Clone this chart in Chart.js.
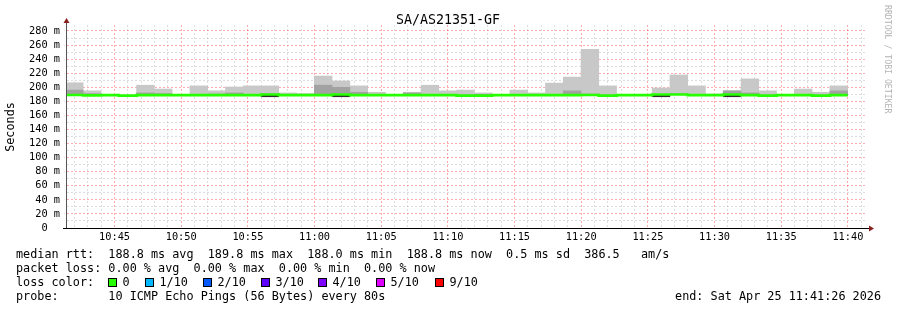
<!DOCTYPE html>
<html>
<head>
<meta charset="utf-8">
<script src="https://cdn.jsdelivr.net/npm/chart.js@4/dist/chart.umd.min.js"></script>
<style>
  html, body { margin: 0; padding: 0; background: #fff; }
  #wrap { width: 897px; height: 310px; }
</style>
</head>
<body>
<div id="wrap"><canvas id="chart" width="897" height="310"></canvas></div>
<script>
const chartTitle = 'SA/AS21351-GF';
const windowStart = '10:41:26';   // left edge of the graph
const firstSample = '10:41:19';   // start of the first (clipped) sample
const stepSec = 80;
const gridSec = 60;               // one minor grid line per minute

// one entry per 80s sample (ms)
const median = [189.0, 188.4, 188.8, 188.0, 188.8, 188.8, 188.8, 188.8, 188.8, 188.8,
                188.8, 189.7, 188.8, 188.8, 188.8, 189.7, 188.8, 188.8, 188.8, 188.8,
                188.8, 188.8, 188.0, 188.0, 188.8, 188.8, 188.8, 188.8, 188.8, 189.0,
                188.0, 188.8, 188.8, 189.7, 189.7, 188.8, 188.8, 189.7, 188.8, 188.0,
                188.8, 188.8, 188.0, 188.8];
const smokeHigh = [206.5, 195.0, 190.0, 188.0, 203.0, 197.5, 190.0, 202.0, 195.0, 200.5,
                   202.0, 202.0, 192.0, 190.5, 216.0, 209.0, 202.0, 193.0, 188.8, 193.0,
                   203.0, 195.0, 196.0, 192.0, 188.8, 196.0, 192.0, 206.0, 214.5, 254.0,
                   202.0, 188.8, 188.8, 199.0, 217.5, 202.0, 190.5, 195.0, 212.0, 195.0,
                   190.0, 197.5, 193.0, 202.0];
const smokeMid = [196.0, 191.0, 190.0, 188.0, 192.0, 191.0, 188.8, 190.0, 190.5, 192.0,
                  190.0, 191.0, 190.0, 190.5, 203.0, 200.0, 193.0, 190.0, 188.8, 192.0,
                  190.0, 190.0, 189.0, 190.0, 188.8, 189.5, 189.5, 190.0, 195.0, 190.5,
                  189.0, 188.8, 188.8, 190.0, 191.0, 190.0, 188.8, 195.0, 192.0, 189.0,
                  190.0, 189.0, 189.0, 195.0];
const smokeLow = [189.0, 188.4, 188.8, 188.0, 188.8, 188.8, 188.8, 188.8, 188.8, 188.8,
                  188.8, 186.5, 188.8, 188.8, 188.8, 186.5, 188.8, 188.8, 188.8, 188.8,
                  188.8, 188.8, 188.0, 188.0, 188.8, 188.8, 188.8, 188.8, 188.8, 189.0,
                  188.0, 188.8, 188.8, 186.5, 189.7, 188.8, 188.8, 186.5, 188.8, 188.0,
                  188.8, 188.8, 188.0, 188.8];

const yTicks = [0, 10, 20, 30, 40, 50, 60, 70, 80, 90, 100, 110, 120, 130, 140,
                150, 160, 170, 180, 190, 200, 210, 220, 230, 240, 250, 260, 270, 280];
const xLabels = ['10:45', '10:50', '10:55', '11:00', '11:05', '11:10', '11:15',
                 '11:20', '11:25', '11:30', '11:35', '11:40'];

const lossColors = ['#26ff00', '#00b8ff', '#0059ff', '#5e00ff', '#7e00ff', '#dd00ff', '#ff0000'];
const lossLabels = ['0', '1/10', '2/10', '3/10', '4/10', '5/10', '9/10'];
const legendRtt = 'median rtt:  188.8 ms avg  189.8 ms max  188.0 ms min  188.8 ms now  0.5 ms sd  386.5   am/s';
const legendLoss = 'packet loss: 0.00 % avg  0.00 % max  0.00 % min  0.00 % now';
const legendProbe = 'probe:       10 ICMP Echo Pings (56 Bytes) every 80s';
const legendEnd = 'end: Sat Apr 25 11:41:26 2026';

function clock(s) {
  const p = s.split(':').map(Number);
  return p[0] * 3600 + p[1] * 60 + (p[2] || 0);
}
const t0 = clock(windowStart);
const rel = s => clock(s) - t0;

// bar centres and step starts
const barX = median.map((_, i) => rel(firstSample) + stepSec * i + stepSec / 2);
const stepX = median.map((_, i) => rel(firstSample) + stepSec * i);

const lightBars = median.map((m, i) => ({ x: barX[i], y: [m, smokeHigh[i]] }));
const darkBars = median.map((m, i) => ({ x: barX[i], y: [m, smokeMid[i]] }));
const lowBars = median.map((m, i) => ({ x: barX[i], y: [smokeLow[i], m] }));
const medianLine = median.map((m, i) => ({ x: stepX[i], y: m }));
medianLine.push({ x: stepX[stepX.length - 1] + stepSec, y: median[median.length - 1] });

const majorSet = new Set(xLabels.map(rel));
const minuteTicks = [];
for (let v = rel('10:42:00'); v <= 3600; v += gridSec) minuteTicks.push(v);

const mono = '"DejaVu Sans Mono", monospace';
const majorGrid = 'rgba(255,70,70,0.45)';
const minorGrid = 'rgba(150,150,150,0.32)';

// Chart.js sizes bars from the smallest gap it sees, which here is the
// minute grid; stretch so each bar spans one full 80s sample
const barOpts = {
  grouped: false, barPercentage: 1, categoryPercentage: stepSec / gridSec,
  borderWidth: 0, inflateAmount: 0.3, clip: 0
};

const decor = {
  id: 'decor',
  afterDatasetsDraw(chart) {
    const ctx = chart.ctx;
    const a = chart.chartArea;
    ctx.save();
    // axes
    ctx.lineWidth = 1;
    ctx.strokeStyle = '#555';
    ctx.beginPath();
    ctx.moveTo(a.left - 0.5, a.bottom);
    ctx.lineTo(a.left - 0.5, a.top - 3);
    ctx.stroke();
    ctx.strokeStyle = '#000';
    ctx.beginPath();
    ctx.moveTo(a.left - 4, a.bottom + 0.5);
    ctx.lineTo(a.right + 3, a.bottom + 0.5);
    ctx.stroke();
    // arrows
    ctx.fillStyle = '#8b2020';
    ctx.beginPath();
    ctx.moveTo(a.left - 3.5, a.top - 2);
    ctx.lineTo(a.left + 2.5, a.top - 2);
    ctx.lineTo(a.left - 0.5, a.top - 7);
    ctx.closePath();
    ctx.fill();
    ctx.beginPath();
    ctx.moveTo(a.right + 2, a.bottom - 2.5);
    ctx.lineTo(a.right + 2, a.bottom + 3.5);
    ctx.lineTo(a.right + 7, a.bottom + 0.5);
    ctx.closePath();
    ctx.fill();
    ctx.restore();
  },
  afterDraw(chart) {
    const ctx = chart.ctx;
    ctx.save();
    ctx.fillStyle = '#000';
    ctx.textBaseline = 'middle';

    ctx.font = '13.3px ' + mono;
    ctx.textAlign = 'center';
    ctx.fillText(chartTitle, 448, 20.5);

    ctx.font = '11.8px ' + mono;
    ctx.save();
    ctx.translate(11, 127);
    ctx.rotate(-Math.PI / 2);
    ctx.fillText('Seconds', 0, 0);
    ctx.restore();

    ctx.save();
    ctx.font = '8.2px ' + mono;
    ctx.fillStyle = '#b4b4b4';
    ctx.textAlign = 'left';
    ctx.translate(887, 5);
    ctx.rotate(Math.PI / 2);
    ctx.fillText('RRDTOOL / TOBI OETIKER', 0, 0);
    ctx.restore();

    ctx.textAlign = 'left';
    ctx.fillText(legendRtt, 16, 254.5);
    ctx.fillText(legendLoss, 16, 268.5);
    ctx.fillText('loss color:', 16, 282.5);
    ctx.fillText(legendProbe, 16, 296.5);
    ctx.textAlign = 'right';
    ctx.fillText(legendEnd, 881, 296.5);

    const boxX = [108.5, 145.5, 203.5, 261.5, 318.5, 376.5, 435.5];
    ctx.textAlign = 'left';
    lossColors.forEach((c, i) => {
      ctx.fillStyle = c;
      ctx.fillRect(boxX[i], 278.5, 8, 8);
      ctx.strokeStyle = '#000';
      ctx.lineWidth = 1;
      ctx.strokeRect(boxX[i], 278.5, 8, 8);
      ctx.fillStyle = '#000';
      ctx.fillText(lossLabels[i], boxX[i] + 14, 282.5);
    });
    ctx.restore();
  }
};

new Chart(document.getElementById('chart'), {
  type: 'bar',
  data: {
    datasets: [
      {
        type: 'line', data: medianLine, order: 1, stepped: true,
        borderColor: '#26ff00', borderWidth: 2.7, pointRadius: 0,
        borderCapStyle: 'butt', clip: 0
      },
      Object.assign({ data: lowBars, order: 2, backgroundColor: '#303030' }, barOpts),
      Object.assign({ data: darkBars, order: 3, backgroundColor: '#a2a2a2' }, barOpts),
      Object.assign({ data: lightBars, order: 4, backgroundColor: '#c8c8c8' }, barOpts)
    ]
  },
  options: {
    responsive: false,
    devicePixelRatio: 1,
    animation: false,
    layout: { padding: { left: 0, right: 30, top: 25, bottom: 62 } },
    plugins: { legend: { display: false }, tooltip: { enabled: false }, title: { display: false } },
    scales: {
      x: {
        type: 'linear',
        offset: false,
        min: 0,
        max: 3600,
        afterBuildTicks: s => { s.ticks = minuteTicks.map(v => ({ value: v })); },
        afterFit: s => { s.height = 20; },
        ticks: {
          autoSkip: false,
          maxRotation: 0,
          padding: 3,
          color: '#000',
          font: { family: mono, size: 10.3 },
          callback: v => {
            if (!majorSet.has(v)) return '';
            const t = t0 + v;
            const hh = Math.floor(t / 3600), mm = Math.floor(t / 60) % 60;
            return hh + ':' + String(mm).padStart(2, '0');
          }
        },
        grid: {
          offset: false,
          drawTicks: false,
          color: c => (c.tick && majorSet.has(c.tick.value)) ? majorGrid : minorGrid
        },
        border: { display: false, dash: [2, 2] }
      },
      y: {
        min: 0,
        max: 288.5,
        afterBuildTicks: s => { s.ticks = yTicks.map(v => ({ value: v })); },
        afterFit: s => { s.width = 67; },
        ticks: {
          autoSkip: false,
          padding: 7,
          color: '#000',
          font: { family: mono, size: 10.3 },
          callback: v => v % 20 !== 0 ? '' : (v === 0 ? '0  ' : v + ' m')
        },
        grid: {
          drawTicks: false,
          color: c => (c.tick && c.tick.value % 20 === 0) ? majorGrid : minorGrid
        },
        border: { display: false, dash: [2, 2] }
      }
    }
  },
  plugins: [decor]
});
</script>
</body>
</html>
